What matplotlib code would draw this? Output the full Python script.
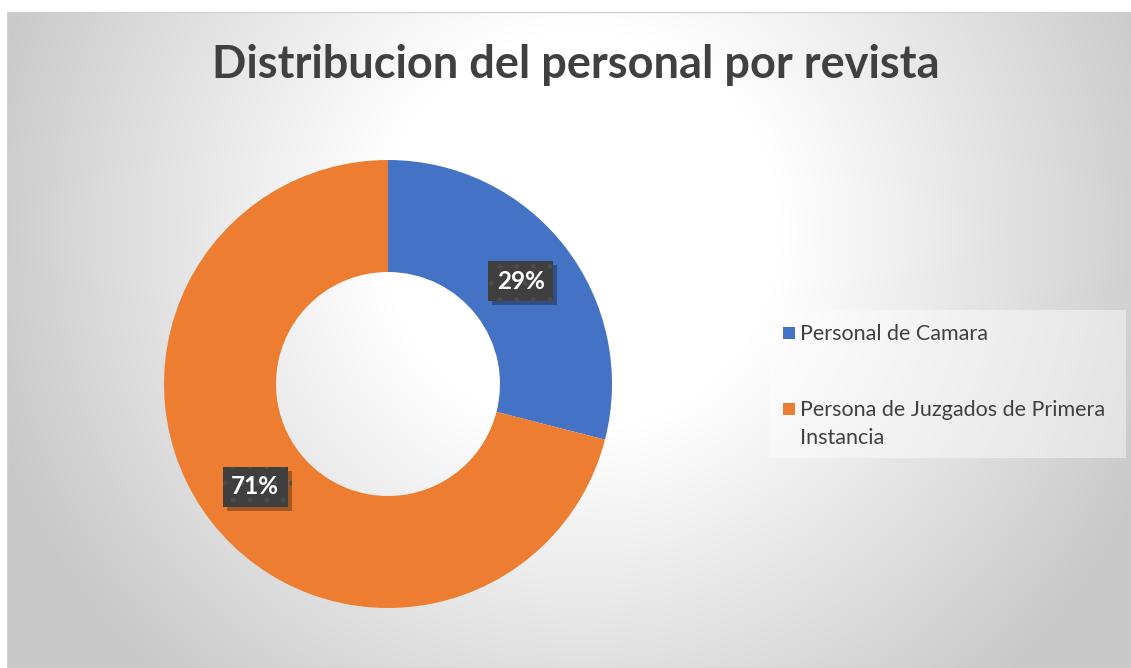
import numpy as np
import matplotlib
matplotlib.use("Agg")
import matplotlib.pyplot as plt
from matplotlib.patches import Rectangle
import matplotlib.patheffects as pe

categories = ["Personal de Camara", "Persona de Juzgados de Primera\nInstancia"]
values = [29, 71]
colors = ["#4472C4", "#ED7D31"]
title = "Distribucion del personal por revista"

plt.rcParams["hatch.linewidth"] = 1.2

W, H = 1131, 668
fig = plt.figure(figsize=(W / 100, H / 100), dpi=100)
fig.patch.set_facecolor("white")

# background radial gradient (chart area)
bx0, by0 = 7, 12
bg = fig.add_axes([bx0 / W, 0, (W - bx0) / W, (H - by0) / H])
bg.set_axis_off()
yy, xx = np.mgrid[by0:H, bx0:W]
cx, cy = 580, 230
d = np.hypot(xx - cx, yy - cy)
t = np.clip((d - 200) / (620 - 200), 0, 1)
g = 1.0 - t * (1.0 - 0.785)
bg.imshow(np.dstack([g, g, g]), aspect="auto", extent=[0, 1, 0, 1], origin="upper")
bg.set_xlim(0, 1); bg.set_ylim(0, 1)
bg.add_patch(Rectangle((0, 0), 1, 1, transform=bg.transAxes, fill=False,
                       edgecolor="#d0d0d0", lw=1))

# donut
cxp, cyp, r = 388, 384, 224
ax = fig.add_axes([(cxp - r) / W, (H - cyp - r) / H, 2 * r / W, 2 * r / H])
ax.set_axis_off()
wedges, texts, autotexts = ax.pie(
    values, colors=colors, startangle=90, counterclock=False,
    wedgeprops=dict(width=0.5, linewidth=0), radius=1.0,
    autopct=lambda p: f"{p:.0f}%", pctdistance=0.75)
ax.set_xlim(-1, 1); ax.set_ylim(-1, 1)
ax.set_aspect("equal")

lab_fs = 17.5
for at in autotexts:
    at.set_fontsize(lab_fs)
    at.set_fontweight("bold")
    at.set_family("Lato")
    at.set_color("white")
    at.set_zorder(5)
    at.set_bbox(dict(boxstyle="square,pad=0.35", facecolor="#3f3f3f", edgecolor="#4c4c4c",
                     hatch=".", linewidth=0))
    at.get_bbox_patch().set_path_effects([
        pe.SimplePatchShadow(offset=(3, -3), shadow_rgbFace="black", alpha=0.3),
        pe.Normal()])

# title
fig.text(576 / W, 1 - 65 / H, title, ha="center", va="center", fontsize=32.5,
         fontweight="bold", family="Lato", color="#404040")

# legend
lx0, ly0, lx1, ly1 = 769, 310, 1126, 458
fig.patches.append(Rectangle((lx0 / W, 1 - ly1 / H), (lx1 - lx0) / W, (ly1 - ly0) / H,
                             transform=fig.transFigure, facecolor="white", alpha=0.45,
                             edgecolor="none"))
rows_y = [333, 409]
for w, lab, yc in zip(wedges, categories, rows_y):
    fig.patches.append(Rectangle((783 / W, 1 - (yc + 6) / H), 12 / W, 12 / H,
                                 transform=fig.transFigure, facecolor=w.get_facecolor(),
                                 edgecolor="none"))
    first, *rest = lab.split("\n")
    fig.text(800 / W, 1 - (yc + 7) / H, first, ha="left", va="baseline", fontsize=15.5,
             family="Lato", color="#404040")
    for k, line in enumerate(rest, start=1):
        fig.text(800 / W, 1 - (yc + 7 + 28 * k) / H, line, ha="left", va="baseline",
                 fontsize=15.5, family="Lato", color="#404040")

fig.savefig("out.png", dpi=100)
